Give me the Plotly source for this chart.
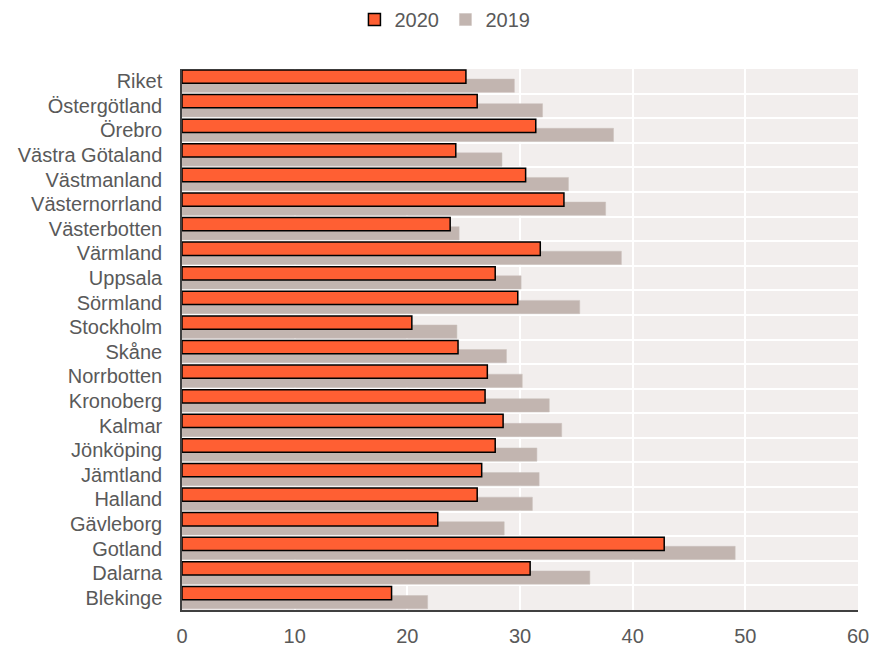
import plotly.graph_objects as go

# Regions, listed top to bottom as drawn
regions = [
    "Riket", "Östergötland", "Örebro", "Västra Götaland", "Västmanland",
    "Västernorrland", "Västerbotten", "Värmland", "Uppsala", "Sörmland",
    "Stockholm", "Skåne", "Norrbotten", "Kronoberg", "Kalmar", "Jönköping",
    "Jämtland", "Halland", "Gävleborg", "Gotland", "Dalarna", "Blekinge",
]

values_2020 = [
    25.2, 26.2, 31.4, 24.3, 30.5, 33.9, 23.8, 31.8, 27.8, 29.8, 20.4,
    24.5, 27.1, 26.9, 28.5, 27.8, 26.6, 26.2, 22.7, 42.8, 30.9, 18.6,
]

values_2019 = [
    29.5, 32.0, 38.3, 28.4, 34.3, 37.6, 24.6, 39.0, 30.1, 35.3, 24.4,
    28.8, 30.2, 32.6, 33.7, 31.5, 31.7, 31.1, 28.6, 49.1, 36.2, 21.8,
]

x_ticks = [0, 10, 20, 30, 40, 50, 60]

positions = list(range(len(regions)))

ORANGE = "#FF5F33"
GREY = "#C2B5B0"
TEXT = "#595959"
FONT = "Liberation Sans, Arial, sans-serif"
SIZE = 20

fig = go.Figure()

fig.add_trace(go.Bar(
    name="2019",
    orientation="h",
    x=values_2019,
    y=positions,
    width=0.54,
    offset=-0.09,
    marker=dict(color=GREY, line=dict(color="#CBC0BC", width=0.5)),
    legendrank=2,
))

fig.add_trace(go.Bar(
    name="2020",
    orientation="h",
    x=values_2020,
    y=positions,
    width=0.54,
    offset=-0.46,
    marker=dict(color=ORANGE, line=dict(color="#000000", width=1.5)),
    legendrank=1,
))

fig.update_layout(
    width=873,
    height=646,
    barmode="overlay",
    margin=dict(l=182, r=15, t=69, b=36, autoexpand=False),
    paper_bgcolor="white",
    plot_bgcolor="#F2EEED",
    font=dict(family=FONT, size=SIZE, color=TEXT),
    legend=dict(
        orientation="h",
        x=0.406, xanchor="left", xref="container",
        y=1.0, yanchor="top", yref="container",
        font=dict(size=SIZE, color=TEXT),
        entrywidth=46,
        tracegroupgap=0,
    ),
    showlegend=True,
)

fig.update_xaxes(
    range=[0, 60],
    tickvals=x_ticks,
    showgrid=True,
    gridcolor="white",
    gridwidth=2,
    zeroline=False,
    showline=True,
    linecolor="#404040",
    linewidth=1.5,
    ticks="",
    automargin=False,
    ticklabelstandoff=7,
    tickfont=dict(size=SIZE, color=TEXT),
)

fig.update_yaxes(
    range=[len(regions) - 0.5, -0.5],
    tickvals=positions,
    ticktext=regions,
    showgrid=False,
    zeroline=False,
    showline=True,
    linecolor="#404040",
    linewidth=1.5,
    ticks="",
    automargin=False,
    ticklabelstandoff=14,
    tickfont=dict(size=SIZE, color=TEXT),
    minor=dict(
        tick0=0.5,
        dtick=1,
        showgrid=True,
        gridcolor="white",
        gridwidth=2,
        ticks="",
    ),
)

fig.write_html("out.html")
